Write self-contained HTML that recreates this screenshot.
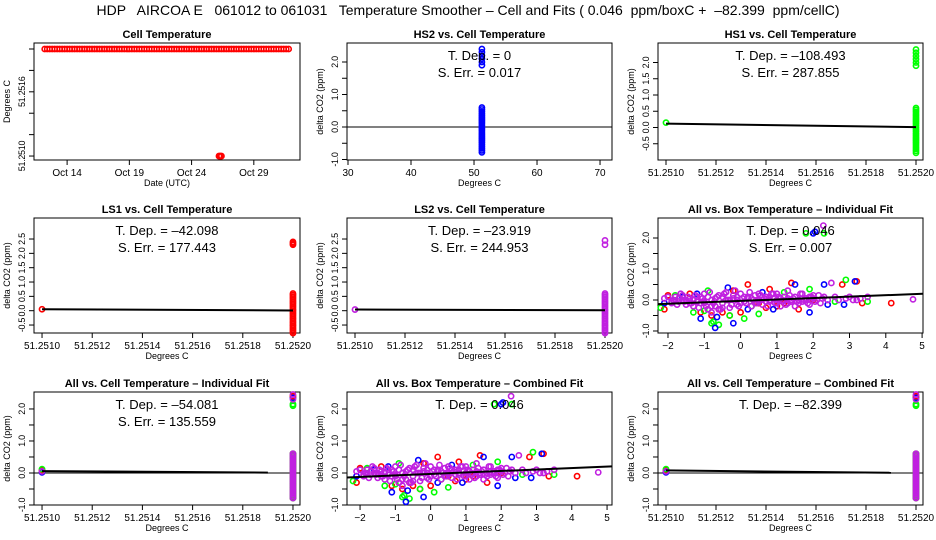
<!DOCTYPE html>
<html><head><meta charset="utf-8">
<style>
body{margin:0;background:#fff;}
svg{display:block;font-family:"Liberation Sans",sans-serif;}
</style></head>
<body>
<svg id="chart" width="936" height="540" xmlns="http://www.w3.org/2000/svg">
<text x="468" y="15" font-size="14" text-anchor="middle" xml:space="preserve">HDP   AIRCOA E   061012 to 061031   Temperature Smoother – Cell and Fits ( 0.046  ppm/boxC +  –82.399  ppm/cellC)</text>
</svg>
<script>
// ---- data ----
const cellDays = [12.2,12.4,12.6,12.8,13,13.2,13.4,13.6,13.8,14,14.2,14.4,14.6,14.8,15,15.2,15.4,15.6,15.8,16,16.2,16.4,16.6,16.8,17,17.2,17.4,17.6,17.8,18,18.2,18.4,18.6,18.8,19,19.2,19.4,19.6,19.8,20,20.2,20.4,20.6,20.8,21,21.2,21.4,21.6,21.8,22,22.2,22.4,22.6,22.8,23,23.2,23.4,23.6,23.8,24,24.2,24.4,24.6,24.8,25,25.2,25.4,25.6,25.8,26,26.2,26.4,26.6,26.8,27,27.2,27.4,27.6,27.8,28,28.2,28.4,28.6,28.8,29,29.2,29.4,29.6,29.8,30,30.2,30.4,30.6,30.8,31,31.2,31.4,31.6,31.8];
const cellTemps = cellDays.map(()=>51.252);
const lowDays = [26.2,26.3,26.4];
const lowTemps = [51.251,51.251,51.251];
const colY = [-0.78,-0.72,-0.66,-0.6,-0.54,-0.48,-0.42,-0.36,-0.3,-0.24,-0.18,-0.12,-0.06,0,0.06,0.12,0.18,0.24,0.3,0.36,0.42,0.48,0.54,0.6];
const colOutliers = [1.9,2.0,2.1,2.2,2.3,2.4];
const ls1Outliers = [2.3,2.35,2.4];
const box = {
 purpleX:[-2.1,-1.9,-1.8,-1.7,-1.6,-1.5,-1.4,-1.3,-1.2,-1.1,-1.0,-0.9,-0.8,-0.7,-0.6,-0.5,-0.4,-0.3,-0.2,-0.1,0.0,0.1,0.2,0.3,0.4,0.5,0.6,0.7,0.8,0.9,1.0,1.1,1.2,1.3,1.4,1.5,1.6,1.7,1.8,1.9,2.0,2.1,2.2,2.3,2.5,2.7,3.0,3.2,3.5,4.75,2.28,-1.0,-0.5,0.0,-1.5,0.5,-0.3,-0.8,0.3,1.0,1.5,-1.2,-0.6,-0.1,0.6,1.3,1.8,-1.7,-0.9,0.8,
  -2.0,-1.85,-1.75,-1.65,-1.55,-1.45,-1.35,-1.25,-1.15,-1.05,-0.95,-0.85,-0.75,-0.65,-0.55,-0.45,-0.35,-0.25,-0.15,-0.05,0.05,0.15,0.25,0.35,0.45,0.55,0.65,0.75,0.85,0.95,1.05,1.15,1.25,1.35,1.45,1.55,1.65,1.75,1.85,1.95,2.05,2.15,2.25,2.4,2.6,2.9,3.1,3.3,
  -1.9,-1.6,-1.3,-1.0,-0.7,-0.4,-0.1,0.2,0.5,0.8,1.1,1.4,1.7,2.0,-1.4,-1.1,-0.8,-0.5,-0.2,0.1,0.4,0.7,1.0,1.3,1.6,1.9],
 purpleY:[0.05,-0.1,0.1,-0.05,0.15,-0.15,0.05,-0.2,0.1,-0.1,0.2,-0.3,0.0,-0.2,0.15,-0.1,0.25,-0.25,0.05,-0.15,0.2,-0.05,0.1,-0.2,0.15,0.0,-0.15,0.1,-0.05,0.2,0.0,-0.2,0.1,0.3,-0.05,0.1,-0.1,0.2,0.05,-0.15,0.15,0.0,-0.1,0.1,0.55,0.0,0.1,0.0,0.1,0.02,2.4,-0.1,0.1,-0.1,0.0,0.2,0.0,-0.4,0.05,0.2,-0.2,-0.05,-0.3,0.1,0.1,0.05,0.0,0.05,0.1,0.1,
  0.1,0.0,-0.15,0.2,-0.05,0.1,-0.1,0.15,-0.25,0.05,-0.2,0.25,-0.1,0.1,-0.3,0.2,0.0,-0.15,0.3,-0.2,0.05,-0.1,0.25,0.0,-0.1,0.15,0.05,-0.2,0.2,-0.1,0.1,0.0,-0.15,0.15,0.05,-0.05,0.2,0.0,-0.1,0.1,-0.05,0.15,0.05,0.0,0.1,0.05,0.0,0.05,
  -0.05,0.0,0.0,-0.05,0.05,0.0,0.0,0.05,-0.05,0.0,0.05,0.0,-0.05,0.05,-0.1,0.1,-0.2,-0.25,0.15,0.1,-0.1,-0.05,-0.1,-0.1,0.0,0.1],
 redX:[-2.1,-1.4,-1.1,-0.8,-0.6,-0.3,0.0,0.2,0.5,0.8,1.0,1.4,1.6,2.0,2.8,3.2,3.35,4.15,-0.5,0.7,-2.0,-0.9,-0.2,1.2],
 redY:[-0.3,0.2,-0.4,-0.5,-0.3,-0.5,-0.4,0.5,-0.1,0.35,-0.2,0.55,-0.3,0.0,0.5,0.6,-0.1,-0.1,-0.4,-0.25,0.15,-0.3,0.3,-0.1],
 greenX:[-2.2,-1.3,-0.9,-0.8,-0.3,0.1,0.5,1.2,1.9,2.3,2.6,2.9,3.5,-1.8,-0.6,1.8,-1.0,0.3,-0.75],
 greenY:[-0.25,-0.4,0.3,-0.75,-0.5,-0.6,-0.45,0.25,0.35,2.15,-0.05,0.65,-0.05,0.15,-0.8,2.15,-0.35,-0.2,-0.7],
 blueX:[-2.1,-1.1,-0.7,-0.35,-0.2,0.2,0.6,1.5,1.9,2.0,2.3,2.4,2.85,3.15,-1.6,0.9,2.05,-0.65,-1.2],
 blueY:[-0.1,-0.6,-0.9,0.4,-0.75,-0.3,0.25,0.5,-0.4,2.15,0.5,-0.15,-0.15,0.6,0.1,-0.3,2.2,-0.55,0.2]
};
const slopes = {hs1:-108.493, ls1:-42.098, ls2:-23.919, box:0.046, allCell:-54.081, comb:-82.399};
const intercepts = {hs1:0.12, ls1:0.05, ls2:0.04, box:-0.03, allCell:0.06, comb:0.08};

// ---- helpers ----
const svg = document.getElementById('chart');
const NS = 'http://www.w3.org/2000/svg';
function mk(tag, attrs, parent){const e=document.createElementNS(NS,tag);for(const k in attrs)e.setAttribute(k,attrs[k]);(parent||svg).appendChild(e);return e;}
function txt(x,y,s,size,opts,parent){const t=mk('text',Object.assign({x:x,y:y,'font-size':size,'text-anchor':'middle'},opts||{}),parent);t.textContent=s;return t;}

function panel(p){
 const g=mk('g',{});
 
 
 const sx=v=>p.x0+(v-p.xd[0])/(p.xd[1]-p.xd[0])*(p.x1-p.x0);
 const sy=v=>p.y1-(v-p.yd[0])/(p.yd[1]-p.yd[0])*(p.y1-p.y0);
 const fr=mk('rect',{x:p.x0,y:p.y0,width:p.x1-p.x0,height:p.y1-p.y0,fill:'none',stroke:'#000','stroke-width':1},g);
 
 
 const tt=txt((p.x0+p.x1)/2,p.y0-5,p.title,11,{'font-weight':'bold'},g);
 
 
 p.xt.forEach((v,i)=>{const X=sx(v);mk('line',{x1:X,x2:X,y1:p.y1,y2:p.y1+5,stroke:'#000'},g);
  if(p.xl[i]!==''){const l=txt(X,p.y1+16,p.xl[i],10,{},g);}});
 p.yt.forEach((v,i)=>{const Y=sy(v);mk('line',{x1:p.x0,x2:p.x0-5,y1:Y,y2:Y,stroke:'#000'},g);
  if(p.yl[i]!==''){const l=txt(p.x0-9,Y,p.yl[i],9,{transform:`rotate(-90 ${p.x0-9} ${Y})`,'letter-spacing':'-0.3'},g);}});
 const xa=txt((p.x0+p.x1)/2,p.y1+26,p.xlab,9,{},g);
 
 
 const yx=p.x0-24,yy=(p.y0+p.y1)/2;
 const ya=txt(yx,yy,p.ylab,9,{transform:`rotate(-90 ${yx} ${yy})`},g);
 
 
 if(p.hline!==undefined){mk('line',{x1:p.x0,x2:p.x1,y1:sy(p.hline),y2:sy(p.hline),stroke:'#000','stroke-width':1},g);}
 (p.series||[]).forEach(s=>{s.x.forEach((xv,i)=>{const c=mk('circle',{cx:sx(xv),cy:sy(s.y[i]),r:2.6,fill:'none',stroke:s.c,'stroke-width':1.6},g);
   
   });});
 if(p.fit){const a=p.fit[0],b=p.fit[1],xa0=p.fit[2],xa1=p.fit[3];
  const ln=mk('line',{x1:sx(xa0),x2:sx(xa1),y1:sy(b+a*(xa0-p.fit[4])),y2:sy(b+a*(xa1-p.fit[4])),stroke:'#000','stroke-width':2},g);
  
  }
 (p.notes||[]).forEach((n,i)=>{const t=txt((p.x0+p.x1)/2,p.y0+17+i*17,n,13,{'xml:space':'preserve'},g);
  
  });
 return {sx,sy};
}
const rep=(v,n)=>Array(n).fill(v);
const cellXT=[51.251,51.2512,51.2514,51.2516,51.2518,51.252];
const cellXL=['51.2510','51.2512','51.2514','51.2516','51.2518','51.2520'];
const cellXD=[51.250968,51.252028];
function colSeries(color,name,extra,low){const ys=colY.concat(extra);return [{x:rep(51.252,ys.length),y:ys,c:color,n:name},{x:[51.251],y:[low],c:color,n:name}];}

panel({name:'cell-temperature-panel',title:'Cell Temperature',x0:34,x1:300,y0:43,y1:160,xd:[11.34,32.71],yd:[51.250963,51.252056],
 xt:[14,19,24,29],xl:['Oct 14','Oct 19','Oct 24','Oct 29'],yt:[51.251,51.2512,51.2514,51.2516,51.2518,51.252],yl:['51.2510','','','51.2516','',''],
 xlab:'Date (UTC)',ylab:'Degrees C',series:[{x:cellDays,y:cellTemps,c:'#ff0000',n:'cell-temp-point'},{x:lowDays,y:lowTemps,c:'#ff0000',n:'cell-temp-point'}]});
panel({name:'hs2-panel',title:'HS2 vs. Cell Temperature',x0:347,x1:612,y0:43,y1:160,xd:[29.84,71.9],yd:[-1.015,2.585],
 xt:[30,40,50,60,70],xl:['30','40','50','60','70'],yt:[-1,-0.5,0,0.5,1,1.5,2],yl:['-1.0','','0.0','','1.0','','2.0'],
 xlab:'Degrees C',ylab:'delta CO2 (ppm)',hline:0,notes:['T. Dep. =  0','S. Err. =  0.017'],
 series:[{x:rep(51.252,colY.length+colOutliers.length),y:colY.concat(colOutliers),c:'#0000ff',n:'hs2-point'}]});
panel({name:'hs1-panel',title:'HS1 vs. Cell Temperature',x0:658,x1:923,y0:43,y1:160,xd:cellXD,yd:[-1.0,2.6],
 xt:cellXT,xl:cellXL,yt:[-0.5,0,0.5,1,1.5,2],yl:['-0.5','0.0','0.5','1.0','1.5','2.0'],
 xlab:'Degrees C',ylab:'delta CO2 (ppm)',notes:['T. Dep. =  –108.493','S. Err. =  287.855'],
 fit:[slopes.hs1,intercepts.hs1,51.251,51.252,51.251],series:colSeries('#00ff00','hs1-point',colOutliers,0.15)});
panel({name:'ls1-panel',title:'LS1 vs. Cell Temperature',x0:34,x1:300,y0:218,y1:333,xd:cellXD,yd:[-0.778,3.233],
 xt:cellXT,xl:cellXL,yt:[-0.5,0,0.5,1,1.5,2,2.5],yl:['-0.5','0.0','0.5','1.0','1.5','2.0','2.5'],
 xlab:'Degrees C',ylab:'delta CO2 (ppm)',notes:['T. Dep. =  –42.098','S. Err. =  177.443'],
 fit:[slopes.ls1,intercepts.ls1,51.251,51.252,51.251],series:colSeries('#ff0000','ls1-point',ls1Outliers,0.05)});
panel({name:'ls2-panel',title:'LS2 vs. Cell Temperature',x0:347,x1:612,y0:218,y1:333,xd:cellXD,yd:[-0.778,3.233],
 xt:cellXT,xl:cellXL,yt:[-0.5,0,0.5,1,1.5,2,2.5],yl:['-0.5','0.0','0.5','1.0','1.5','2.0','2.5'],
 xlab:'Degrees C',ylab:'delta CO2 (ppm)',notes:['T. Dep. =  –23.919','S. Err. =  244.953'],
 fit:[slopes.ls2,intercepts.ls2,51.251,51.252,51.251],series:colSeries('#c020e0','ls2-point',[2.3,2.45],0.04)});
function boxSeries(){return [{x:box.redX,y:box.redY,c:'#ff0000',n:'red-point'},{x:box.greenX,y:box.greenY,c:'#00ff00',n:'green-point'},{x:box.blueX,y:box.blueY,c:'#0000ff',n:'blue-point'},{x:box.purpleX,y:box.purpleY,c:'#c020e0',n:'purple-point'}];}
panel({name:'all-box-individual-panel',title:'All vs. Box Temperature – Individual Fit',x0:658,x1:923,y0:218,y1:333,xd:[-2.275,5.025],yd:[-1.065,2.645],
 xt:[-2,-1,0,1,2,3,4,5],xl:['−2','−1','0','1','2','3','4','5'],yt:[-1,-0.5,0,0.5,1,1.5,2],yl:['-1.0','','0.0','','1.0','','2.0'],
 xlab:'Degrees C',ylab:'delta CO2 (ppm)',notes:['T. Dep. =  0.046','S. Err. =  0.007'],
 fit:[slopes.box,intercepts.box,-2.275,5.025,0],series:boxSeries()});
function allColSeries(){return [].concat(colSeries('#0000ff','blue-point',[2.35],0.02),colSeries('#ff0000','red-point',[2.4],0.08),colSeries('#00ff00','green-point',[2.1,2.15],0.12),colSeries('#c020e0','purple-point',[2.3,2.45],0.05));}
panel({name:'all-cell-individual-panel',title:'All vs. Cell Temperature – Individual Fit',x0:34,x1:300,y0:392,y1:505,xd:cellXD,yd:[-1.0,2.53],
 xt:cellXT,xl:cellXL,yt:[-1,-0.5,0,0.5,1,1.5,2],yl:['-1.0','','0.0','','1.0','','2.0'],
 xlab:'Degrees C',ylab:'delta CO2 (ppm)',hline:0,notes:['T. Dep. =  –54.081','S. Err. =  135.559'],
 fit:[slopes.allCell,intercepts.allCell,51.251,51.2519,51.251],series:allColSeries()});
panel({name:'all-box-combined-panel',title:'All vs. Box Temperature – Combined Fit',x0:347,x1:612,y0:392,y1:505,xd:[-2.37,5.14],yd:[-1.0,2.53],
 xt:[-2,-1,0,1,2,3,4,5],xl:['−2','−1','0','1','2','3','4','5'],yt:[-1,-0.5,0,0.5,1,1.5,2],yl:['-1.0','','0.0','','1.0','','2.0'],
 xlab:'Degrees C',ylab:'delta CO2 (ppm)',notes:['T. Dep. =  0.046'],
 fit:[slopes.box,intercepts.box,-2.37,5.14,0],series:boxSeries()});
panel({name:'all-cell-combined-panel',title:'All vs. Cell Temperature – Combined Fit',x0:658,x1:923,y0:392,y1:505,xd:cellXD,yd:[-1.0,2.53],
 xt:cellXT,xl:cellXL,yt:[-1,-0.5,0,0.5,1,1.5,2],yl:['-1.0','','0.0','','1.0','','2.0'],
 xlab:'Degrees C',ylab:'delta CO2 (ppm)',hline:0,notes:['T. Dep. =  –82.399'],
 fit:[slopes.comb,intercepts.comb,51.251,51.2519,51.251],series:allColSeries()});
</script>
</body></html>
